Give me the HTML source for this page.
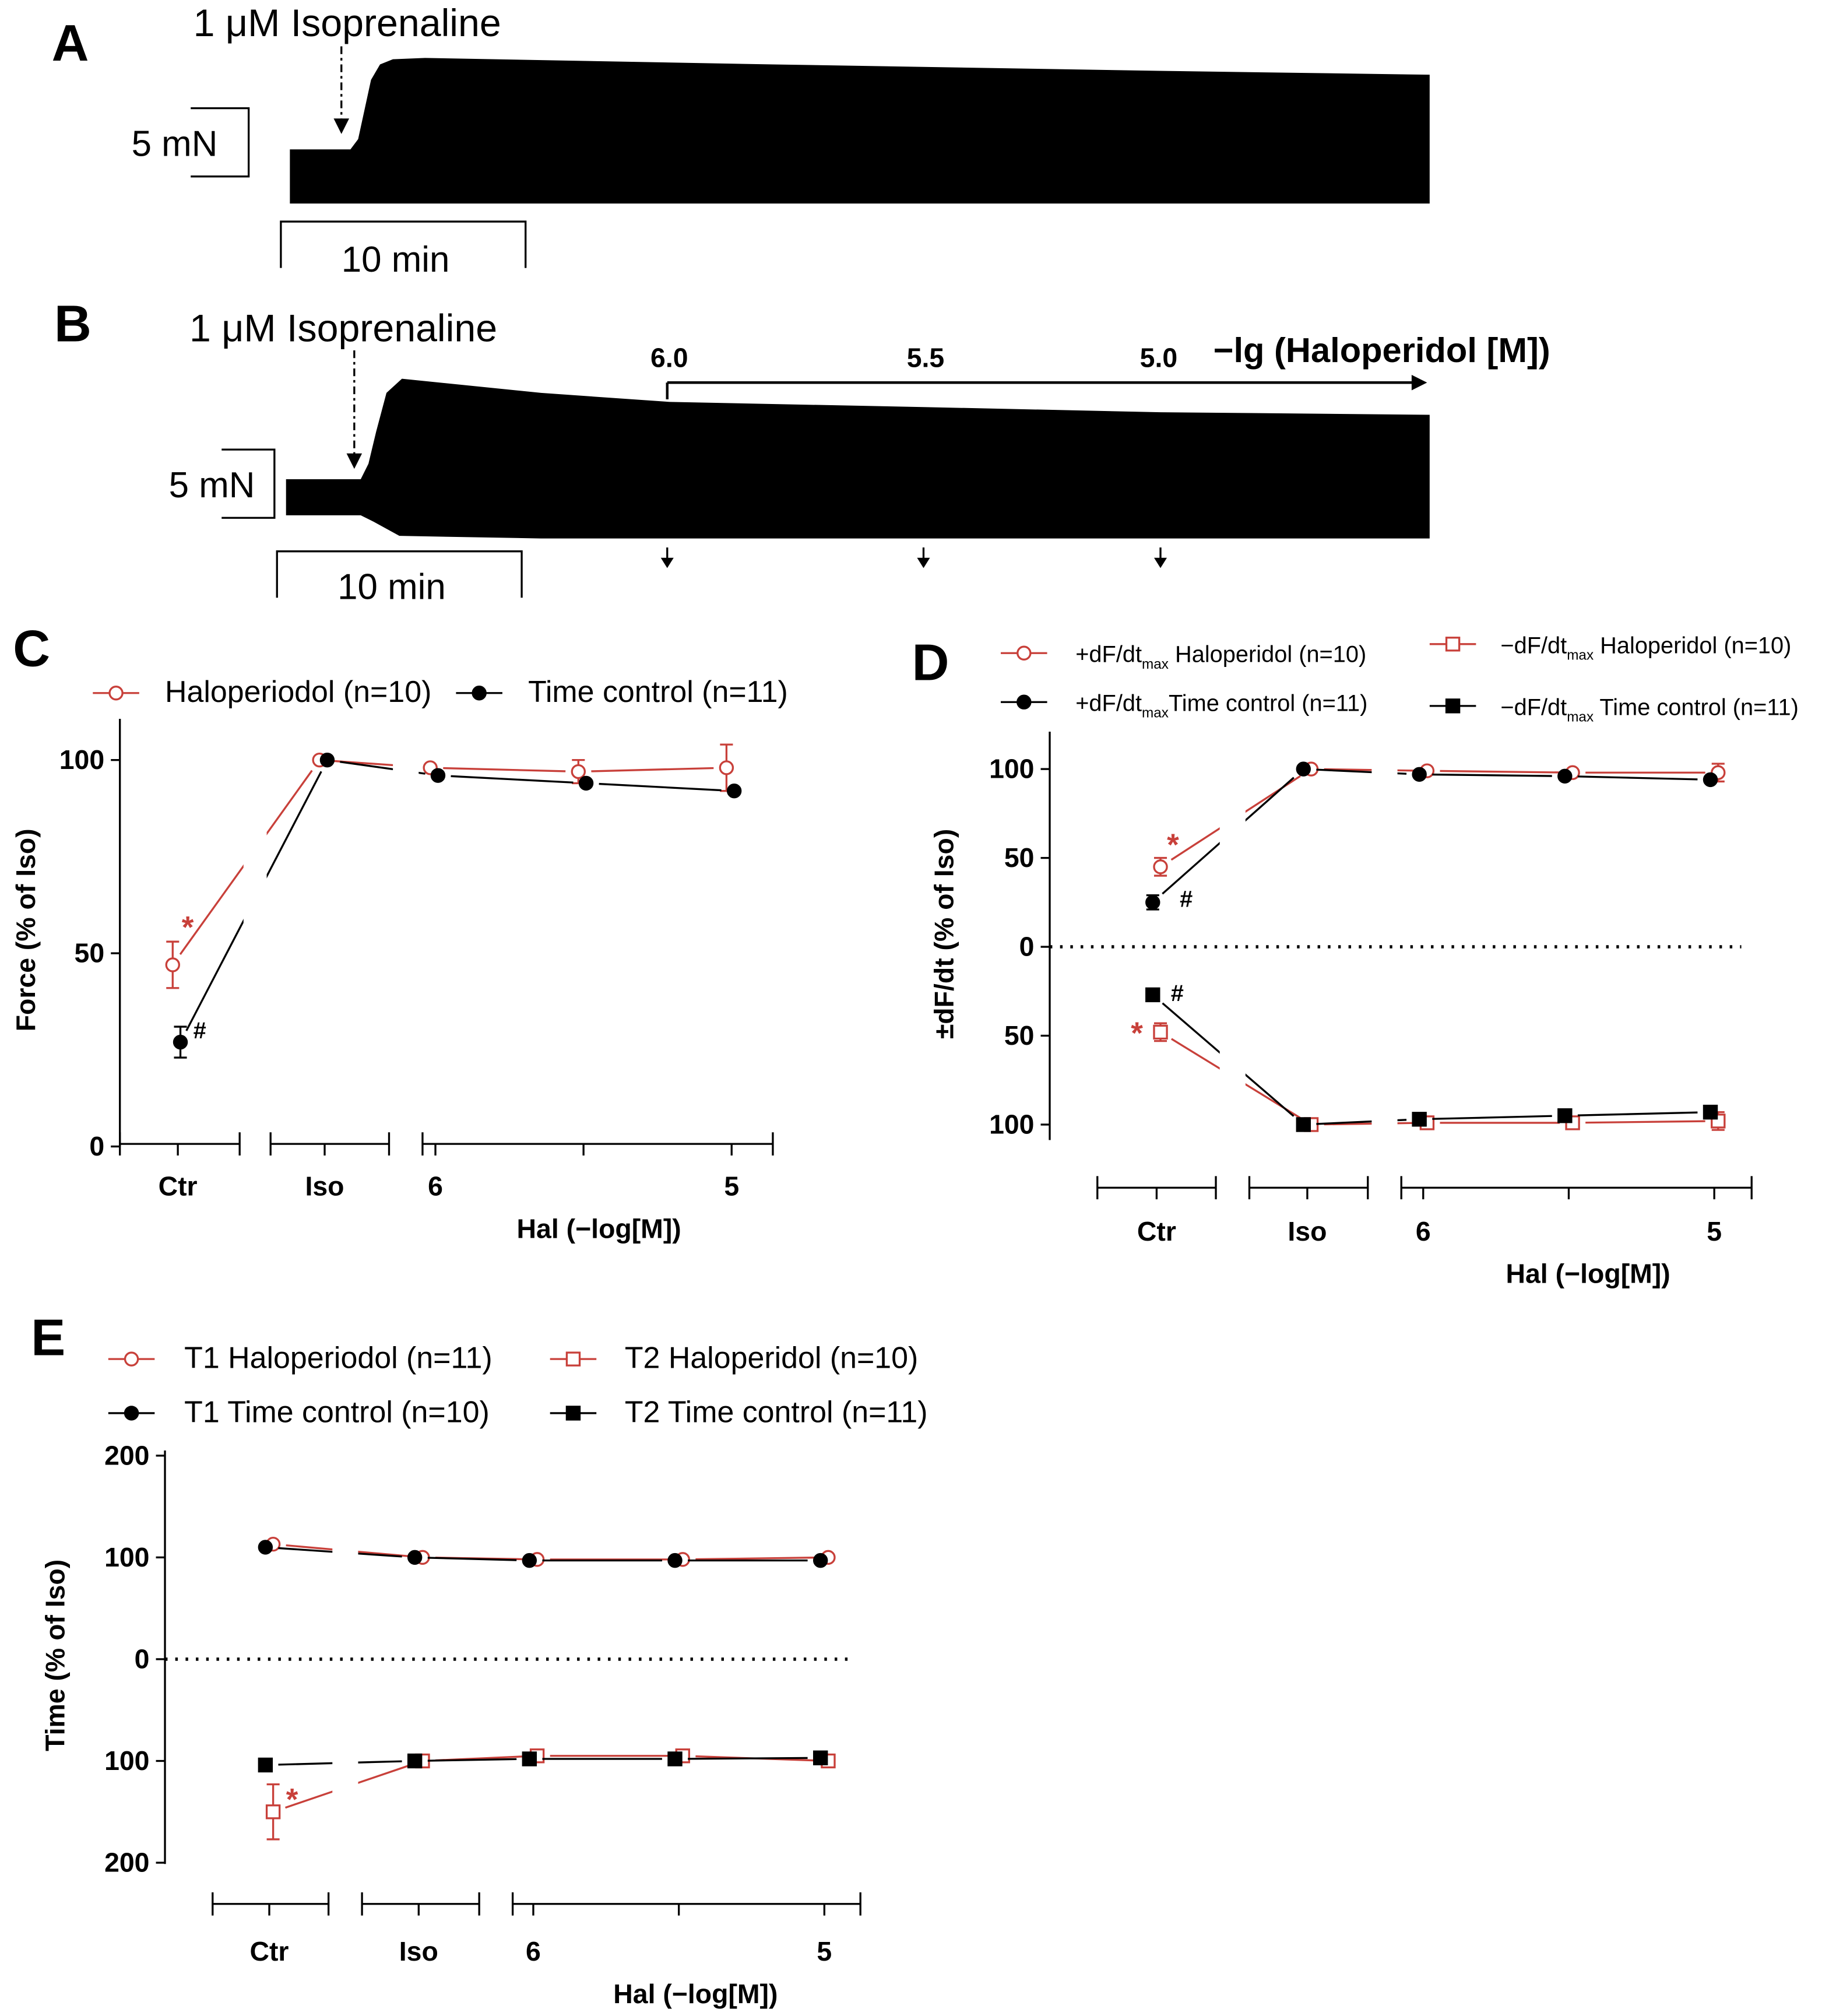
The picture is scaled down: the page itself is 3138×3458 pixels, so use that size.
<!DOCTYPE html>
<html><head><meta charset="utf-8">
<style>
html,body{margin:0;padding:0;background:#fff;}
svg{display:block;}
text{font-family:"Liberation Sans",sans-serif;}
.pl{font-size:40px;font-weight:bold;}
.tr{font-size:28px;}
.tr2{font-size:30px;}
.tk{font-size:21px;font-weight:bold;}
.lg{font-size:23.5px;}
.lgs{font-size:18px;}
</style></head>
<body>
<svg id="fig" width="3138" height="3458" viewBox="0 0 1420 1565" xmlns="http://www.w3.org/2000/svg">
<!-- Panel A -->
<g>
<text x="40" y="47" class="pl">A</text>
<text x="150" y="28" class="tr2">1 μM Isoprenaline</text>
<line x1="265" y1="36" x2="265" y2="98" stroke="#000" stroke-width="1.5" stroke-dasharray="6,3,2,3"/>
<polygon points="259,92 271,92 265,104" fill="#000"/>
<path d="M225,116 L272,116 L278,108 L283,85 L288,62 L295,50 L305,46 L330,45 L600,50 L900,55 L1110,58 L1110,158 L225,158 Z" fill="#000"/>
<path d="M148,84 L193,84 L193,137 L148,137" fill="none" stroke="#000" stroke-width="1.5"/>
<text x="102" y="121" class="tr">5 mN</text>
<path d="M218,208 L218,172 L408,172 L408,208" fill="none" stroke="#000" stroke-width="1.5"/>
<text x="265" y="211" class="tr">10 min</text>
</g>
<!-- Panel B -->
<g>
<text x="42" y="265" class="pl">B</text>
<text x="147" y="265" class="tr2">1 μM Isoprenaline</text>
<line x1="275" y1="272" x2="275" y2="356" stroke="#000" stroke-width="1.5" stroke-dasharray="6,3,2,3"/>
<polygon points="269,352 281,352 275,364" fill="#000"/>
<path d="M222,372 L280,372 L286,360 L292,335 L300,305 L312,294 L420,305 L520,312 L717,316 L901,320 L1110,322 L1110,418 L420,418 L310,416 L290,405 L280,400 L222,400 Z" fill="#000"/>
<line x1="518" y1="297" x2="1100" y2="297" stroke="#000" stroke-width="2"/>
<polygon points="1096,291 1108,297 1096,303" fill="#000"/>
<line x1="518" y1="297" x2="518" y2="310" stroke="#000" stroke-width="2"/>
<text x="505" y="285" class="tk" font-size="24">6.0</text>
<text x="704" y="285" class="tk" font-size="24">5.5</text>
<text x="885" y="285" class="tk" font-size="24">5.0</text>
<text x="942" y="281" style="font-size:27px;font-weight:bold">−lg (Haloperidol [M])</text>
<g stroke="#000" stroke-width="1.5">
<line x1="518" y1="425" x2="518" y2="435"/><line x1="717" y1="425" x2="717" y2="435"/><line x1="901" y1="425" x2="901" y2="435"/>
</g>
<polygon points="513,433 523,433 518,441" fill="#000"/>
<polygon points="712,433 722,433 717,441" fill="#000"/>
<polygon points="896,433 906,433 901,441" fill="#000"/>
<path d="M172,349 L213,349 L213,402 L172,402" fill="none" stroke="#000" stroke-width="1.5"/>
<text x="131" y="386" class="tr">5 mN</text>
<path d="M215,464 L215,428 L405,428 L405,464" fill="none" stroke="#000" stroke-width="1.5"/>
<text x="262" y="465" class="tr">10 min</text>
</g>
<g id="charts"></g>
</svg>
<script>
// ---------- DATA ----------
const categoriesX = ["Ctr","Iso","6","5.5","5"];
const tickLabelsC = ["0","50","100"];
const tickValuesC = [0,50,100];
const forceHal = [47,100,98,97,98];
const forceHalErr = [6,0,1,3,6];
const forceTC = [27,100,96,94,92];
const forceTCErr = [4,0,1,1,1];

const tickLabelsD = ["100","50","0","50","100"];
const tickValuesD = [100,50,0,-50,-100];
const dfPosHal = [45,100,99,98,98];
const dfPosHalErr = [5,0,1,1,5];
const dfPosTC = [25,100,97,96,94];
const dfPosTCErr = [4,0,1,1,1];
const dfNegHal = [48,100,99,99,98];
const dfNegHalErr = [5,0,1,1,5];
const dfNegTC = [27,100,97,95,93];
const dfNegTCErr = [2,0,1,1,1];

const tickLabelsE = ["200","100","0","100","200"];
const tickValuesE = [200,100,0,-100,-200];
const t1Hal = [113,100,98,98,100];
const t1TC = [110,100,97,97,97];
const t2Hal = [150,100,95,95,100];
const t2HalErr = [27,0,2,2,2];
const t2TC = [104,100,98,98,97];

// ---------- HELPERS ----------
const NS="http://www.w3.org/2000/svg";
const root=document.getElementById('charts');
function mk(tag,attrs,parent){const e=document.createElementNS(NS,tag);for(const k in attrs)e.setAttribute(k,attrs[k]);(parent||root).appendChild(e);return e;}
function txt(x,y,s,cls,anchor,parent){const t=mk('text',{x:x,y:y,class:cls,'text-anchor':anchor||'start'},parent);t.textContent=s;return t;}
const RED="#c8403a";

function makePanel(cfg){
  const g=mk('g',{});
  
  
  const y=v=>cfg.y0-v*cfg.ys;
  const x=(i,off)=>{ if(i===0) return cfg.xCtr+off; if(i===1) return cfg.xIso+off;
    const lg=[6,5.5,5][i-2]; return cfg.x6+(6-lg)*(cfg.x5-cfg.x6)+off; };
  // series
  cfg.series.forEach(s=>{
    const sg=mk('g',{},g);
    
    
    const pts=s.vals.map((v,i)=>[x(i,s.off),y(s.sign*v)]);
    for(let i=0;i<pts.length-1;i++){
      const a=pts[i],b=pts[i+1];const dx=b[0]-a[0],dy=b[1]-a[1];const L=Math.hypot(dx,dy);const sh=Math.min(10,L/3);
      const ln=mk('line',{x1:a[0]+dx/L*sh,y1:a[1]+dy/L*sh,x2:b[0]-dx/L*sh,y2:b[1]-dy/L*sh,stroke:s.col,'stroke-width':1.5},sg);
      
      
    }
    pts.forEach((p,i)=>{
      if(s.err&&s.err[i]>1){const e=s.err[i]*cfg.ys;
        mk('line',{x1:p[0],y1:p[1]-e,x2:p[0],y2:p[1]+e,stroke:s.col,'stroke-width':1.5},sg);
        mk('line',{x1:p[0]-5,y1:p[1]-e,x2:p[0]+5,y2:p[1]-e,stroke:s.col,'stroke-width':1.5},sg);
        mk('line',{x1:p[0]-5,y1:p[1]+e,x2:p[0]+5,y2:p[1]+e,stroke:s.col,'stroke-width':1.5},sg);}
      let m;
      if(s.shape==='circle') m=mk('circle',{cx:p[0],cy:p[1],r:5,fill:s.fill,stroke:s.col,'stroke-width':1.5},sg);
      else m=mk('rect',{x:p[0]-5,y:p[1]-5,width:10,height:10,fill:s.fill,stroke:s.col,'stroke-width':1.5},sg);
      
      
    });
  });
  (cfg.gaps||[]).forEach(gp=>mk('rect',{x:gp[0],y:gp[1],width:gp[2],height:gp[3],fill:'#fff'},g));
  // y axis
  const ya=mk('line',{x1:cfg.ax,y1:cfg.yTop,x2:cfg.ax,y2:cfg.yBot,stroke:'#000','stroke-width':1.5},g);
  
  
  cfg.tv.forEach((v,i)=>{
    const yy=y(v);
    mk('line',{x1:cfg.ax-7,y1:yy,x2:cfg.ax,y2:yy,stroke:'#000','stroke-width':1.5},g);
    const t=txt(cfg.ax-12,yy+7,cfg.tl[i],'tk','end',g);
    
    
  });
  cfg.segs.forEach(s=>{
    const l=mk('line',{x1:s[0],y1:cfg.xaY,x2:s[1],y2:cfg.xaY,stroke:'#000','stroke-width':1.5},g);
    
    
    mk('line',{x1:s[0],y1:cfg.xaY-9,x2:s[0],y2:cfg.xaY+9,stroke:'#000','stroke-width':1.5},g);
    mk('line',{x1:s[1],y1:cfg.xaY-9,x2:s[1],y2:cfg.xaY+9,stroke:'#000','stroke-width':1.5},g);
  });
  [0,1,2,3,4].forEach(i=>{const xx=x(i,0);mk('line',{x1:xx,y1:cfg.xaY,x2:xx,y2:cfg.xaY+9,stroke:'#000','stroke-width':1.5},g);});
  [0,1,2,4].forEach(i=>{const t=txt(x(i,0),cfg.xlY,categoriesX[i],'tk','middle',g);
    
    });
  const xt=txt(cfg.halX,cfg.xlY+33,'Hal (−log[M])','tk','middle',g);
  
  
  const yt=txt(0,0,cfg.ytitle,'tk','middle',g);
  yt.setAttribute('transform','translate('+cfg.ytX+','+cfg.ytY+') rotate(-90)');
  
  
  if(cfg.dotted){const d=mk('line',{x1:cfg.ax,y1:y(0),x2:cfg.dotEnd,y2:y(0),stroke:'#000','stroke-width':2.5,'stroke-dasharray':'2,6'},g);
    
    }
  cfg.legend.forEach(L=>{
    const lg=mk('g',{},g);
    
    
    mk('line',{x1:L.x-18,y1:L.y,x2:L.x+18,y2:L.y,stroke:L.col,'stroke-width':1.5},lg);
    if(L.shape==='circle') mk('circle',{cx:L.x,cy:L.y,r:5,fill:L.fill,stroke:L.col,'stroke-width':1.5},lg);
    else mk('rect',{x:L.x-5,y:L.y-5,width:10,height:10,fill:L.fill,stroke:L.col,'stroke-width':1.5},lg);
    const t=mk('text',{x:L.tx,y:L.y+7,class:L.cls},lg);
    if(L.sub){const a=document.createElementNS(NS,'tspan');a.textContent=L.pre;t.appendChild(a);
      const b=document.createElementNS(NS,'tspan');b.setAttribute('font-size','11');b.setAttribute('dy','5');b.textContent='max';t.appendChild(b);
      const c=document.createElementNS(NS,'tspan');c.setAttribute('dy','-5');c.textContent=L.post;t.appendChild(c);}
    else t.textContent=L.text;
  });
  (cfg.marks||[]).forEach(m=>{const t=mk('text',{x:m[0],y:m[1],fill:m[3],'font-size':m[4],'font-weight':'bold'},g);t.textContent=m[2];
    
    });
  const pl=txt(cfg.lab[0],cfg.lab[1],cfg.lab[2],'pl','start',g);
  
  
}

makePanel({name:'panel-c',lab:[10,517,'C'],y0:890,ys:3,ax:93,yTop:558,yBot:890,tv:tickValuesC,tl:tickLabelsC,
  xaY:888,segs:[[93,186],[210,302],[328,600]],xCtr:138,xIso:252,x6:338,x5:568,xlY:928,halX:465,
  ytitle:'Force (% of Iso)',ytX:27,ytY:722,
  gaps:[[189,560,18,320],[305,560,20,320]],
  series:[
   {name:'series-haloperidol',vals:forceHal,err:forceHalErr,sign:1,off:-4,col:RED,fill:'#fff',shape:'circle'},
   {name:'series-time-control',vals:forceTC,err:forceTCErr,sign:1,off:2,col:'#000',fill:'#000',shape:'circle'}],
  legend:[{x:90,y:538,tx:128,col:RED,fill:'#fff',shape:'circle',cls:'lg',text:'Haloperiodol (n=10)'},
          {x:372,y:538,tx:410,col:'#000',fill:'#000',shape:'circle',cls:'lg',text:'Time control (n=11)'}],
  marks:[[141,728,'*',RED,24],[150,806,'#','#000',18]]});

makePanel({name:'panel-d',lab:[708,528,'D'],y0:735,ys:1.38,ax:815,yTop:568,yBot:885,tv:tickValuesD,tl:tickLabelsD,
  xaY:922,segs:[[852,944],[970,1062],[1088,1360]],xCtr:898,xIso:1015,x6:1105,x5:1331,xlY:963,halX:1233,
  ytitle:'±dF/dt (% of Iso)',ytX:740,ytY:725,dotted:true,dotEnd:1352,
  gaps:[[947,570,20,320],[1065,570,20,320]],
  series:[
   {name:'series-pos-dfdt-haloperidol',vals:dfPosHal,err:dfPosHalErr,sign:1,off:3,col:RED,fill:'#fff',shape:'circle'},
   {name:'series-pos-dfdt-time-control',vals:dfPosTC,err:dfPosTCErr,sign:1,off:-3,col:'#000',fill:'#000',shape:'circle'},
   {name:'series-neg-dfdt-haloperidol',vals:dfNegHal,err:dfNegHalErr,sign:-1,off:3,col:RED,fill:'#fff',shape:'rect'},
   {name:'series-neg-dfdt-time-control',vals:dfNegTC,err:dfNegTCErr,sign:-1,off:-3,col:'#000',fill:'#000',shape:'rect'}],
  legend:[{x:795,y:507,tx:835,col:RED,fill:'#fff',shape:'circle',cls:'lgs',sub:1,pre:'+dF/dt',post:' Haloperidol (n=10)'},
          {x:795,y:545,tx:835,col:'#000',fill:'#000',shape:'circle',cls:'lgs',sub:1,pre:'+dF/dt',post:'Time control (n=11)'},
          {x:1128,y:500,tx:1165,col:RED,fill:'#fff',shape:'rect',cls:'lgs',sub:1,pre:'−dF/dt',post:' Haloperidol (n=10)'},
          {x:1128,y:548,tx:1165,col:'#000',fill:'#000',shape:'rect',cls:'lgs',sub:1,pre:'−dF/dt',post:' Time control (n=11)'}],
  marks:[[906,664,'*',RED,24],[916,704,'#','#000',18],[909,777,'#','#000',18],[878,810,'*',RED,24]]});

makePanel({name:'panel-e',lab:[24,1052,'E'],y0:1288,ys:0.79,ax:128,yTop:1126,yBot:1447,tv:tickValuesE,tl:tickLabelsE,
  xaY:1478,segs:[[165,255],[281,372],[398,668]],xCtr:209,xIso:325,x6:414,x5:640,xlY:1522,halX:540,
  ytitle:'Time (% of Iso)',ytX:50,ytY:1285,dotted:true,dotEnd:660,
  gaps:[[258,1130,20,320]],
  series:[
   {name:'series-t1-haloperidol',vals:t1Hal,sign:1,off:3,col:RED,fill:'#fff',shape:'circle'},
   {name:'series-t1-time-control',vals:t1TC,sign:1,off:-3,col:'#000',fill:'#000',shape:'circle'},
   {name:'series-t2-haloperidol',vals:t2Hal,err:t2HalErr,sign:-1,off:3,col:RED,fill:'#fff',shape:'rect'},
   {name:'series-t2-time-control',vals:t2TC,sign:-1,off:-3,col:'#000',fill:'#000',shape:'rect'}],
  legend:[{x:102,y:1055,tx:143,col:RED,fill:'#fff',shape:'circle',cls:'lg',text:'T1 Haloperiodol (n=11)'},
          {x:102,y:1097,tx:143,col:'#000',fill:'#000',shape:'circle',cls:'lg',text:'T1 Time control (n=10)'},
          {x:445,y:1055,tx:485,col:RED,fill:'#fff',shape:'rect',cls:'lg',text:'T2 Haloperidol (n=10)'},
          {x:445,y:1097,tx:485,col:'#000',fill:'#000',shape:'rect',cls:'lg',text:'T2 Time control (n=11)'}],
  marks:[[222,1405,'*',RED,24]]});
</script>
</body></html>
